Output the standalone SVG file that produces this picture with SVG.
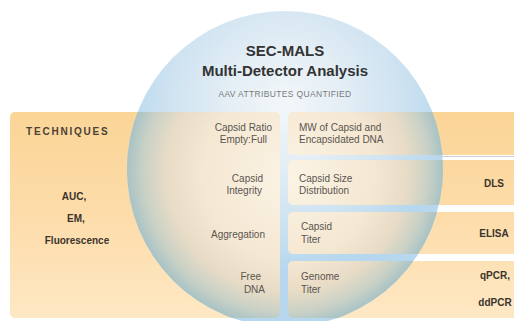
<svg xmlns="http://www.w3.org/2000/svg" width="514" height="321" viewBox="0 0 514 321">
<style>
text{font-family:"Liberation Sans",Arial,Helvetica,sans-serif}
.title{font-size:15px;font-weight:bold;fill:#333;text-anchor:middle}
.sub{font-size:8.5px;letter-spacing:0.35px;fill:#7a7a7a;text-anchor:middle}
.head{font-size:10px;font-weight:bold;letter-spacing:1.8px;fill:#4a4236}
.tech{font-size:10px;font-weight:bold;fill:#3a342c;text-anchor:middle}
.attr{font-size:10px;fill:#5a5550}
.attrL{font-size:10px;fill:#5a5550;text-anchor:end}
</style>
<defs>
<linearGradient id="orange" gradientUnits="userSpaceOnUse" x1="0" y1="112" x2="0" y2="318">
<stop offset="0" stop-color="#fbd597"/>
<stop offset="0.5" stop-color="#fddcaa"/>
<stop offset="1" stop-color="#fee8c4"/>
</linearGradient>
<radialGradient id="sky" gradientUnits="userSpaceOnUse" cx="285" cy="105" r="165">
<stop offset="0" stop-color="#f3f7f9"/>
<stop offset="0.35" stop-color="#e4eef5"/>
<stop offset="0.7" stop-color="#cfe3f1"/>
<stop offset="1" stop-color="#b6d7ee"/>
</radialGradient>
<radialGradient id="sphere" gradientUnits="userSpaceOnUse" cx="285" cy="169" r="158" fx="292" fy="180">
<stop offset="0" stop-color="#fbf3e5"/>
<stop offset="0.55" stop-color="#f5e8d2"/>
<stop offset="0.76" stop-color="#e8dcc6"/>
<stop offset="0.9" stop-color="#cad1c6"/>
<stop offset="1" stop-color="#a8c3c5"/>
</radialGradient>
<clipPath id="circ"><circle cx="285" cy="169" r="158"/></clipPath>
<g id="cells">
<rect x="10" y="112" width="270" height="206" rx="5"/>
<rect x="288" y="112" width="236" height="43" rx="5"/>
<rect x="288" y="160" width="236" height="45" rx="5"/>
<rect x="288" y="212" width="236" height="42" rx="5"/>
<rect x="288" y="261" width="236" height="57" rx="5"/>
</g>
</defs>
<rect width="514" height="321" fill="#fff"/>
<g id="panels">
<use href="#cells" fill="url(#orange)"/>
<line x1="440" y1="156.5" x2="514" y2="156.5" stroke="#b8b8b8" stroke-width="0.7"/>
</g>
<g id="sphere-node">
<circle cx="285" cy="169" r="158" fill="url(#sky)"/>
<use href="#cells" fill="url(#sphere)" clip-path="url(#circ)"/>
<text class="title" x="285" y="56">SEC-MALS</text>
<text class="title" x="285" y="76">Multi-Detector Analysis</text>
<text class="sub" x="285" y="97">AAV ATTRIBUTES QUANTIFIED</text>
</g>
<g id="techniques">
<text class="head" x="26" y="135">TECHNIQUES</text>
<text class="tech" x="74" y="200">AUC,</text>
<text class="tech" x="76" y="222">EM,</text>
<text class="tech" x="77" y="244">Fluorescence</text>
</g>
<g id="row-ratio">
<text class="attrL" x="272" y="131">Capsid Ratio</text>
<text class="attrL" x="267" y="143">Empty:Full</text>
<text class="attr" x="299" y="131">MW of Capsid and</text>
<text class="attr" x="299" y="143">Encapsidated DNA</text>
</g>
<g id="row-integrity">
<text class="attrL" x="263" y="182">Capsid</text>
<text class="attrL" x="262" y="194">Integrity</text>
<text class="attr" x="299" y="182">Capsid Size</text>
<text class="attr" x="299" y="194">Distribution</text>
<text class="tech" x="494" y="187">DLS</text>
</g>
<g id="row-aggregation">
<text class="attrL" x="265" y="238">Aggregation</text>
<text class="attr" x="301" y="230">Capsid</text>
<text class="attr" x="301" y="243">Titer</text>
<text class="tech" x="494" y="237">ELISA</text>
</g>
<g id="row-dna">
<text class="attrL" x="261" y="280">Free</text>
<text class="attrL" x="265" y="293">DNA</text>
<text class="attr" x="301" y="280">Genome</text>
<text class="attr" x="301" y="293">Titer</text>
<text class="tech" x="495" y="279">qPCR,</text>
<text class="tech" x="495" y="306">ddPCR</text>
</g>
</svg>
